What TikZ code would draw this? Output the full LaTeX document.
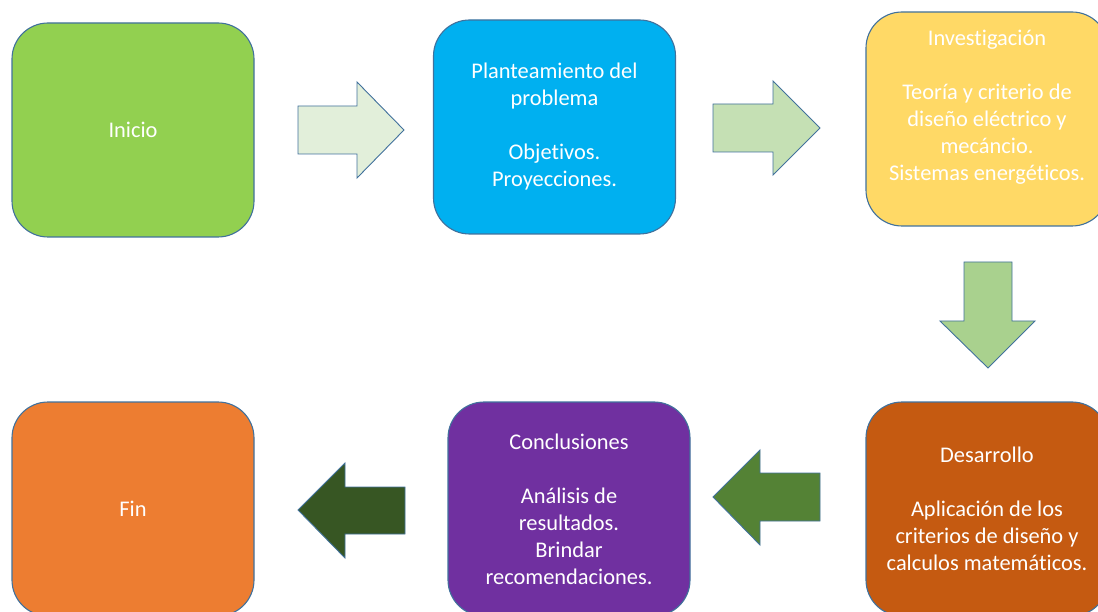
\documentclass[tikz,border=0pt]{standalone}
\usepackage{fontspec}
\setmainfont{Carlito}[Ligatures=NoCommon,RawFeature={-liga;-clig;-dlig}]
\definecolor{bordercol}{HTML}{41719C}
\definecolor{cInicio}{HTML}{92D050}
\definecolor{cPlan}{HTML}{00B0F0}
\definecolor{cInv}{HTML}{FFD966}
\definecolor{cDes}{HTML}{C55A11}
\definecolor{cCon}{HTML}{7030A0}
\definecolor{cFin}{HTML}{ED7D31}
\definecolor{aOne}{HTML}{E2EFDA}
\definecolor{aTwo}{HTML}{C5E0B4}
\definecolor{aThree}{HTML}{A9D18E}
\definecolor{aFour}{HTML}{548235}
\definecolor{aFive}{HTML}{375623}
\tikzset{
  stagebox/.style={draw=bordercol, line width=1.1pt, rounded corners=36pt,
    minimum width=242pt, minimum height=214pt, inner sep=0pt,
    text=white, align=center,
    font=\fontsize{22.4pt}{27pt}\selectfont},
  blockarrow/.style={draw=bordercol, line width=0.9pt, line join=miter}
}
\begin{document}
\begin{tikzpicture}[x=1pt,y=-1pt]
\useasboundingbox (0,0) rectangle (1098,612);
\clip (0,0) rectangle (1098,612);
% boxes
\node[stagebox, fill=cInicio] (inicio) at (133,130) {Inicio};
\node[stagebox, fill=cPlan] (plan) at (554.5,127) {Planteamiento del\\problema\\\mbox{}\\Objetivos.\\Proyecciones.};
\node[stagebox, fill=cInv] (inv) at (987,119) {Investigación\\\mbox{}\\Teoría y criterio de\\diseño eléctrico y\\mecáncio.\\Sistemas energéticos.\\\mbox{}};
\node[stagebox, fill=cDes] (des) at (987,509) {Desarrollo\\\mbox{}\\Aplicación de los\\criterios de diseño y\\calculos matemáticos.};
\node[stagebox, fill=cCon] (con) at (569,509) {Conclusiones\\\mbox{}\\Análisis de\\resultados.\\Brindar\\recomendaciones.};
\node[stagebox, fill=cFin] (fin) at (133,509) {Fin};
% block arrows
\draw[blockarrow, fill=aOne] (298,106) -- (357,106) -- (357,82) -- (404,130) -- (357,178) -- (357,154) -- (298,154) -- cycle;
\draw[blockarrow, fill=aTwo] (713,104) -- (773,104) -- (773,81) -- (820,128) -- (773,175) -- (773,152) -- (713,152) -- cycle;
\draw[blockarrow, fill=aThree] (964,262) -- (1012,262) -- (1012,321) -- (1035,321) -- (988,368) -- (940,321) -- (964,321) -- cycle;
\draw[blockarrow, fill=aFour] (820,473) -- (760,473) -- (760,450) -- (713,497) -- (760,545) -- (760,521) -- (820,521) -- cycle;
\draw[blockarrow, fill=aFive] (405,487) -- (345,487) -- (345,463) -- (298,510) -- (345,558) -- (345,534) -- (405,534) -- cycle;
\end{tikzpicture}
\end{document}
